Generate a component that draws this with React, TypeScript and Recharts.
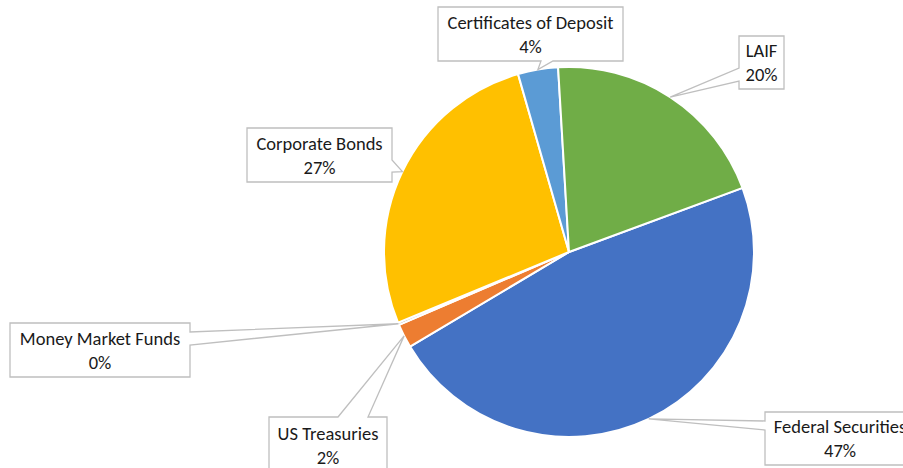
import React from "react";
import { PieChart, Pie, Cell } from "recharts";

// Excel series order (first slice starts ~70° clockwise from 12 o'clock)
const categories = [
  "Federal Securities",
  "US Treasuries",
  "Money Market Funds",
  "Corporate Bonds",
  "Certificates of Deposit",
  "LAIF",
];
const shares = [47.1, 2.1, 0.2, 26.8, 3.5, 20.3];
const colors = ["#4472C4", "#ED7D31", "#A5A5A5", "#FFC000", "#5B9BD5", "#70AD47"];

// callout boxes: box rect, edge the wedge leaves from, wedge base along that edge
const callouts = [
  { x: 765, y: 412, w: 150, h: 53, edge: "left", a: 421, b: 430 },
  { x: 269, y: 417, w: 118, h: 56, edge: "top", a: 338, b: 368 },
  { x: 10, y: 323, w: 180, h: 54, edge: "right", a: 332, b: 345 },
  { x: 247, y: 128, w: 145, h: 54, edge: "right", a: 160, b: 172 },
  { x: 438, y: 7, w: 185, h: 54, edge: "bottom", a: 541, b: 553 },
  { x: 739, y: 36, w: 45, h: 53, edge: "left", a: 68, b: 81 },
];

const data = categories.map((name, i) => ({ name, value: shares[i] }));

const RAD = Math.PI / 180;
const FONT = "Carlito, Calibri, Lato, sans-serif";

function calloutPath(c: (typeof callouts)[number], tx: number, ty: number) {
  const { x, y, w, h, edge, a, b } = c;
  const p: string[] = [`M${x},${y}`];
  if (edge === "top") p.push(`L${a},${y}`, `L${tx},${ty}`, `L${b},${y}`);
  p.push(`L${x + w},${y}`);
  if (edge === "right") p.push(`L${x + w},${a}`, `L${tx},${ty}`, `L${x + w},${b}`);
  p.push(`L${x + w},${y + h}`);
  if (edge === "bottom") p.push(`L${b},${y + h}`, `L${tx},${ty}`, `L${a},${y + h}`);
  p.push(`L${x},${y + h}`);
  if (edge === "left") p.push(`L${x},${b}`, `L${tx},${ty}`, `L${x},${a}`);
  p.push("Z");
  return p.join(" ");
}

function renderCallout(props: any) {
  const { cx, cy, midAngle, outerRadius, percent, index } = props;
  const c = callouts[index];
  const tx = cx + outerRadius * Math.cos(-midAngle * RAD);
  const ty = cy + outerRadius * Math.sin(-midAngle * RAD);
  const mx = c.x + c.w / 2;
  const my = c.y + c.h / 2;
  return (
    <g key={`callout-${index}`}>
      <path d={calloutPath(c, tx, ty)} fill="#fff" stroke="#BFBFBF" strokeWidth={1.3} />
      <text
        x={mx}
        y={my - 12}
        textAnchor="middle"
        dominantBaseline="central"
        fontFamily={FONT}
        fontSize={18.5}
        fill="#1a1a1a"
      >
        {categories[index]}
      </text>
      <text
        x={mx}
        y={my + 12}
        textAnchor="middle"
        dominantBaseline="central"
        fontFamily={FONT}
        fontSize={18.5}
        fill="#1a1a1a"
      >
        {`${Math.round(percent * 100)}%`}
      </text>
    </g>
  );
}

export default function App() {
  return (
    <div style={{ position: "absolute", left: 0, top: 0, width: 903, height: 468, background: "#fff" }}>
      <PieChart width={903} height={468} margin={{ top: 0, right: 0, bottom: 0, left: 0 }}>
        <Pie
          data={data}
          dataKey="value"
          nameKey="name"
          cx={569}
          cy={252}
          outerRadius={185}
          startAngle={20.3}
          endAngle={-339.7}
          stroke="#fff"
          strokeWidth={2}
          label={renderCallout}
          labelLine={false}
          isAnimationActive={false}
        >
          {data.map((d, i) => (
            <Cell key={d.name} fill={colors[i]} />
          ))}
        </Pie>
      </PieChart>
    </div>
  );
}
